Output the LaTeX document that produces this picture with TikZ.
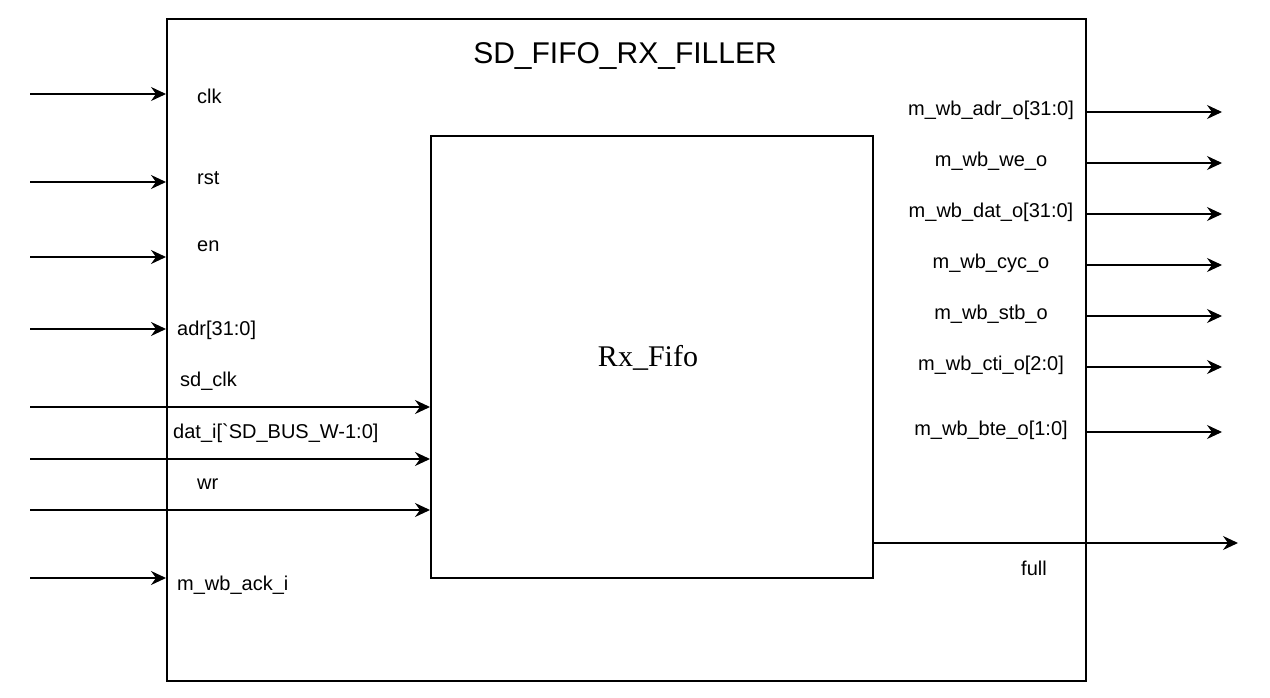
\documentclass[tikz,border=0pt]{standalone}
\usepackage{fontspec}
\setmainfont{Liberation Sans}[Ligatures=TeXOff]
\newfontfamily\serifface{Liberation Serif}
\usetikzlibrary{arrows.meta}
\begin{document}
\begin{tikzpicture}[x=1pt,y=-1pt,
  box/.style={draw, line width=1.6pt, inner sep=0pt, anchor=north west},
  sig/.style={font=\fontsize{20}{24}\selectfont, inner sep=0pt},
  tip/.style={-{Stealth[length=15pt,width=14pt,inset=5pt]}},
  wire/.style={line width=1.6pt, tip},
  thinwire/.style={line width=1.1pt, tip}]
\useasboundingbox (0,0) rectangle (1270,698);

% module outline and the FIFO inside it
\node[box, minimum width=919pt, minimum height=662pt] (outer) at (166,18) {};
\node[box, minimum width=442pt, minimum height=442pt] (fifo) at (430,135) {};
\node[font=\fontsize{30}{36}\selectfont] (title) at (625,56) {SD\_FIFO\_RX\_FILLER};
\node[font=\serifface\fontsize{30}{36}\selectfont] (fifoname) at (648,358) {Rx\_Fifo};

% input ports ending at the module border
\coordinate (iclk) at (30,94);
\coordinate (irst) at (30,182);
\coordinate (ien)  at (30,257);
\coordinate (iadr) at (30,329);
\coordinate (iack) at (30,578);
\draw[thinwire] (iclk) -- (iclk -| outer.west);
\draw[wire] (irst) -- (irst -| outer.west);
\draw[wire] (ien) -- (ien -| outer.west);
\draw[wire] (iadr) -- (iadr -| outer.west);
\draw[wire] (iack) -- (iack -| outer.west);

% inputs going straight into the FIFO
\coordinate (isd)  at (30,407);
\coordinate (idat) at (30,459);
\coordinate (iwr)  at (30,510);
\draw[wire] (isd) -- (isd -| fifo.west);
\draw[wire] (idat) -- (idat -| fifo.west);
\draw[wire] (iwr) -- (iwr -| fifo.west);

% input labels
\node[sig, anchor=west] (lclk) at (197,96) {clk};
\node[sig, anchor=west] (lrst) at (197,178) {rst};
\node[sig, anchor=west] (len)  at (197,246) {en};
\node[sig, anchor=west] (ladr) at (177,330) {adr[31:0]};
\node[sig, anchor=west] (lsd)  at (180,381) {sd\_clk};
\node[sig, anchor=west] (ldat) at (173,433) {dat\_i[`SD\_BUS\_W-1:0]};
\node[sig, anchor=west] (lwr)  at (197,484) {wr};
\node[sig, anchor=west] (lack) at (177,585) {m\_wb\_ack\_i};

% wishbone master outputs
\foreach \n/\y/\t in {oadr/112/m\_wb\_adr\_o[31:0], owe/163/m\_wb\_we\_o,
    odat/214/m\_wb\_dat\_o[31:0], ocyc/265/m\_wb\_cyc\_o, ostb/316/m\_wb\_stb\_o,
    octi/367/m\_wb\_cti\_o[2:0], obte/432/m\_wb\_bte\_o[1:0]} {
  \coordinate (\n) at (1222,\y);
  \draw[thinwire] (\n -| outer.east) -- (\n);
  \node[sig] (l\n) at (991,\y-2) {\t};
}

% FIFO full flag
\coordinate (ofull) at (1238,543);
\draw[wire] (ofull -| fifo.east) -- (ofull);
\node[sig] (lfull) at (1034,568) {full};
\end{tikzpicture}
\end{document}
